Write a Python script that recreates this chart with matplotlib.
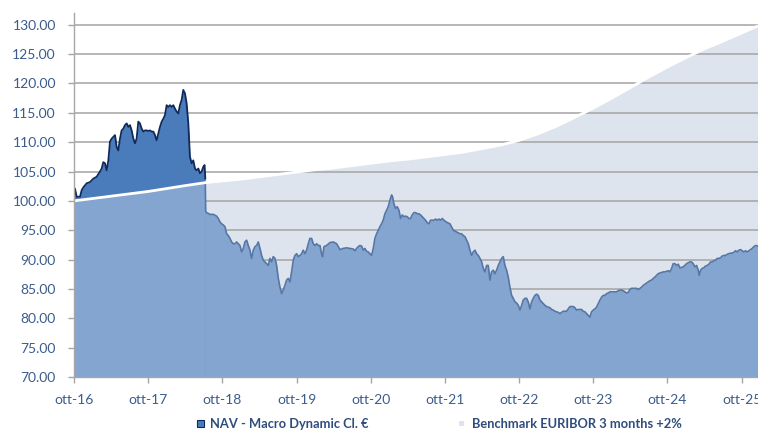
import matplotlib
matplotlib.use("Agg")
import matplotlib.pyplot as plt
from matplotlib.patches import Rectangle
import numpy as np

# ---- data (decimal years) ----
# NAV, first period (above benchmark, dark style)
nav_early_dates = [
    2016.750, 2016.763, 2016.786, 2016.831, 2016.853, 2016.876, 2016.921, 2016.966,
    2017.011, 2017.055, 2017.100, 2017.123, 2017.145, 2017.168, 2017.190, 2017.213,
    2017.235, 2017.258, 2017.280, 2017.303, 2017.325, 2017.347, 2017.370, 2017.392,
    2017.415, 2017.437, 2017.460, 2017.482, 2017.505, 2017.527, 2017.550, 2017.572,
    2017.594, 2017.617, 2017.639, 2017.662, 2017.684, 2017.707, 2017.729, 2017.752,
    2017.774, 2017.797, 2017.819, 2017.842, 2017.864, 2017.887, 2017.909, 2017.932,
    2017.954, 2017.976, 2017.999, 2018.021, 2018.044, 2018.066, 2018.089, 2018.111,
    2018.134, 2018.156, 2018.178, 2018.201, 2018.223, 2018.246, 2018.268, 2018.291,
    2018.313, 2018.336, 2018.358, 2018.381, 2018.403, 2018.426, 2018.448, 2018.471,
    2018.493, 2018.510, 2018.520,
]
nav_early = [
    102.0, 102.1, 100.7, 100.7, 101.8, 102.3, 103.0, 103.2,
    103.8, 104.1, 105.0, 105.5, 106.6, 106.4, 105.2, 106.9,
    110.1, 110.6, 110.9, 111.2, 109.2, 108.6, 110.6, 112.0,
    112.3, 112.9, 113.2, 112.6, 112.9, 112.0, 110.6, 109.8,
    110.6, 113.5, 113.2, 112.3, 111.8, 112.0, 112.0, 111.9,
    112.0, 111.8, 111.8, 111.2, 110.3, 111.5, 112.6, 113.5,
    114.0, 114.6, 116.3, 116.0, 116.3, 116.0, 116.3, 115.7,
    115.2, 114.9, 116.3, 117.2, 118.9, 118.3, 116.6, 113.2,
    107.5, 106.4, 106.9, 105.5, 105.2, 105.5, 104.7, 105.0,
    105.8, 106.1, 103.8,
]

# NAV, rest of the period
nav_dates = [
    2018.520, 2018.525, 2018.538, 2018.583, 2018.628, 2018.673, 2018.695, 2018.718,
    2018.740, 2018.762, 2018.785, 2018.807, 2018.830, 2018.852, 2018.875, 2018.897,
    2018.920, 2018.942, 2018.965, 2018.987, 2019.010, 2019.032, 2019.054, 2019.077,
    2019.099, 2019.122, 2019.144, 2019.167, 2019.189, 2019.212, 2019.234, 2019.257,
    2019.279, 2019.301, 2019.324, 2019.346, 2019.369, 2019.391, 2019.414, 2019.436,
    2019.459, 2019.481, 2019.504, 2019.526, 2019.549, 2019.571, 2019.593, 2019.616,
    2019.638, 2019.661, 2019.683, 2019.706, 2019.728, 2019.751, 2019.773, 2019.796,
    2019.818, 2019.840, 2019.863, 2019.885, 2019.908, 2019.930, 2019.953, 2019.975,
    2019.998, 2020.020, 2020.043,
    2020.065, 2020.087, 2020.101, 2020.119, 2020.155, 2020.200, 2020.245, 2020.290,
    2020.312, 2020.335, 2020.379, 2020.424, 2020.469, 2020.514, 2020.537, 2020.559,
    2020.582, 2020.604, 2020.627, 2020.649, 2020.671, 2020.694, 2020.716, 2020.739,
    2020.761, 2020.784, 2020.806, 2020.829, 2020.851, 2020.874, 2020.896, 2020.918,
    2020.941, 2020.963, 2020.986, 2021.008, 2021.031, 2021.044, 2021.062, 2021.085,
    2021.107, 2021.130, 2021.152, 2021.175, 2021.197, 2021.219, 2021.242, 2021.264,
    2021.287, 2021.309, 2021.332, 2021.354, 2021.377, 2021.399, 2021.422, 2021.444,
    2021.466, 2021.489, 2021.511, 2021.534, 2021.556, 2021.579, 2021.601, 2021.624,
    2021.646, 2021.669, 2021.691, 2021.714, 2021.736, 2021.758, 2021.781, 2021.817,
    2021.863, 2021.908, 2021.953, 2021.975, 2021.997, 2022.020, 2022.042, 2022.065,
    2022.087, 2022.110, 2022.132, 2022.155, 2022.177, 2022.200, 2022.222, 2022.245,
    2022.267, 2022.289, 2022.312, 2022.334, 2022.357, 2022.379, 2022.402, 2022.424,
    2022.447, 2022.469, 2022.492, 2022.514, 2022.536, 2022.559, 2022.581, 2022.604,
    2022.626, 2022.649, 2022.671, 2022.694, 2022.716, 2022.739, 2022.761, 2022.784,
    2022.806, 2022.829, 2022.851, 2022.873, 2022.896, 2022.918, 2022.941, 2022.963,
    2022.986, 2023.008, 2023.031, 2023.053, 2023.076, 2023.098, 2023.120, 2023.143,
    2023.165, 2023.188, 2023.210, 2023.233, 2023.255, 2023.278,
    2023.300, 2023.345, 2023.390, 2023.435, 2023.480, 2023.502, 2023.525, 2023.547,
    2023.570, 2023.592, 2023.614, 2023.637, 2023.659, 2023.682, 2023.704, 2023.727,
    2023.749, 2023.772, 2023.794, 2023.817, 2023.839, 2023.862, 2023.884, 2023.906,
    2023.929, 2023.951, 2023.974, 2023.996, 2024.019, 2024.064, 2024.086, 2024.109,
    2024.131, 2024.153, 2024.176, 2024.198, 2024.221, 2024.243, 2024.266, 2024.288,
    2024.333, 2024.356, 2024.378, 2024.401, 2024.423, 2024.445, 2024.468, 2024.490,
    2024.513, 2024.535, 2024.558, 2024.580, 2024.603, 2024.625, 2024.648, 2024.670,
    2024.693, 2024.715, 2024.737, 2024.760, 2024.782, 2024.805, 2024.827, 2024.850,
    2024.872, 2024.895,
    2024.917, 2024.962, 2025.007, 2025.052, 2025.074, 2025.097, 2025.119, 2025.142,
    2025.164, 2025.178, 2025.196, 2025.218, 2025.240, 2025.263, 2025.285, 2025.308,
    2025.330, 2025.353, 2025.375, 2025.398, 2025.420, 2025.443, 2025.465, 2025.487,
    2025.510, 2025.532, 2025.555, 2025.577, 2025.600, 2025.622, 2025.645, 2025.667,
    2025.690, 2025.712, 2025.735, 2025.757, 2025.779, 2025.802, 2025.824, 2025.847,
    2025.869, 2025.892, 2025.914, 2025.941, 2025.968,
]
nav = [
    103.0, 98.2, 98.0, 97.7, 97.7, 97.4, 97.0, 96.4,
    96.1, 95.9, 95.6, 94.4, 94.1, 93.6, 93.0, 92.7,
    92.7, 93.0, 92.7, 92.4, 91.3, 91.9, 93.0, 93.3,
    92.4, 91.6, 90.2, 91.6, 92.2, 92.4, 93.0, 91.9,
    90.7, 89.9, 89.6, 89.3, 89.0, 90.2, 89.6, 90.5,
    90.2, 89.0, 86.8, 85.3, 84.2, 84.8, 85.6, 86.5,
    86.8, 86.2, 87.9, 89.9, 90.7, 91.0, 90.5, 90.7,
    91.0, 91.6, 91.0, 91.6, 92.7, 93.6, 93.6, 92.7,
    92.4, 92.7, 92.4,
    92.4, 91.0, 90.5, 92.2, 92.4, 92.9, 93.0, 92.7,
    92.2, 91.7, 91.9, 92.0, 91.9, 91.8, 91.5, 91.9,
    92.2, 92.4, 92.3, 91.6, 91.9, 91.4, 91.3, 91.0,
    90.7, 91.9, 93.6, 94.4, 95.0, 95.6, 96.1, 96.7,
    97.8, 98.4, 99.0, 100.1, 101.0, 100.7, 99.5, 98.7,
    99.0, 98.4, 97.0, 97.6, 97.3, 97.4, 97.3, 97.0,
    97.0, 97.6, 98.0, 98.0, 97.8, 97.8, 97.6, 97.3,
    97.0, 96.7, 96.3, 96.1, 96.7, 96.7, 96.7, 96.9,
    96.7, 96.9, 96.7, 97.0, 96.7, 96.5, 96.3, 96.1,
    95.0, 94.7, 94.4, 94.4, 94.1, 93.9, 93.3, 92.7,
    91.6, 90.7, 91.3, 91.6, 91.0, 90.7, 90.2, 89.6,
    88.5, 87.9, 89.0, 89.0, 86.5, 87.9, 88.2, 87.6,
    88.2, 89.0, 89.6, 90.2, 90.5, 89.0, 88.2, 87.0,
    85.3, 83.9, 83.4, 82.8, 82.6, 82.2, 81.4, 82.2,
    83.1, 83.4, 83.4, 82.8, 81.6, 82.8, 83.4, 83.9,
    84.1, 83.9, 83.1, 82.8, 82.5, 82.2, 82.0, 81.9,
    81.8, 81.5, 81.4, 81.2, 81.1, 81.0,
    80.8, 81.2, 81.2, 82.0, 82.0, 81.8, 81.4, 81.5,
    81.5, 81.5, 81.2, 81.1, 80.8, 80.5, 80.2, 81.1,
    81.4, 81.6, 81.9, 82.5, 83.1, 83.6, 83.9, 83.9,
    84.2, 84.3, 84.5, 84.5, 84.5, 84.5, 84.7, 84.8,
    84.8, 84.7, 84.5, 84.3, 84.4, 84.9, 85.1, 85.1,
    85.1, 84.9, 85.1, 85.3, 85.6, 85.8, 86.0, 86.2,
    86.4, 86.5, 86.8, 87.0, 87.3, 87.6, 87.7, 87.8,
    87.9, 87.9, 88.0, 88.1, 87.9, 88.5, 89.3, 89.3,
    89.0, 89.2,
    88.6, 88.75, 89.3, 89.6, 89.6, 89.3, 88.75, 89.0,
    88.2, 87.3, 88.2, 88.5, 88.6, 88.9, 89.0, 89.2,
    89.6, 89.6, 89.8, 89.9, 90.2, 90.2, 90.3, 90.6,
    90.7, 90.7, 90.9, 91.0, 91.1, 91.1, 91.25, 91.5,
    91.3, 91.6, 91.7, 91.5, 91.3, 91.5, 91.3, 91.5,
    91.7, 91.9, 92.2, 92.4, 92.3,
]

bench_dates = [
    2016.75, 2017.00, 2017.25, 2017.50, 2017.75, 2018.00, 2018.25, 2018.52,
    2018.75, 2019.00, 2019.25, 2019.50, 2019.75, 2020.00, 2020.25, 2020.50,
    2020.75, 2021.00, 2021.25, 2021.50, 2021.75, 2022.00, 2022.25, 2022.50,
    2022.75, 2023.00, 2023.25, 2023.50, 2023.75, 2024.00, 2024.25, 2024.50,
    2024.75, 2025.00, 2025.25, 2025.50, 2025.75, 2025.97,
]
bench = [
    100.0, 100.4, 100.8, 101.2, 101.6, 102.1, 102.6, 103.1,
    103.4, 103.7, 104.1, 104.5, 104.9, 105.3, 105.6, 106.0,
    106.4, 106.8, 107.1, 107.5, 107.9, 108.3, 108.9, 109.5,
    110.3, 111.4, 112.7, 114.2, 115.8, 117.5, 119.3, 121.1,
    122.8, 124.4, 125.9, 127.2, 128.6, 129.8,
]

x_ticks = [2016.75 + k for k in range(10)]
x_labels = ["ott-16", "ott-17", "ott-18", "ott-19", "ott-20",
            "ott-21", "ott-22", "ott-23", "ott-24", "ott-25"]
y_ticks = list(range(70, 131, 5))

LEGEND_NAV = "NAV - Macro Dynamic Cl. €"
LEGEND_BENCH = "Benchmark EURIBOR 3 months +2%"

# ---- style ----
C_BENCH = "#dde4ee"
C_NAV = "#84a5cf"
C_NAV_LINE = "#5676a6"
C_DARK = "#4a7cbc"
C_DARK_LINE = "#0f2a5a"
C_GRID = "#a3a3a3"
C_TEXT = "#3b5c8c"
C_LEG = "#2f4d7c"

plt.rcParams["font.family"] = ["Lato", "DejaVu Sans"]

fig = plt.figure(figsize=(7.58, 4.30), dpi=100)
ax = fig.add_axes([74 / 758, 1 - 377 / 430, 684 / 758, 364 / 430])

bd = np.array(bench_dates)
bv = np.array(bench)
base = 70

ax.fill_between(bd, base, bv, color=C_BENCH, linewidth=0, zorder=1)

# grid over the benchmark area, under the NAV areas
for yv in y_ticks[1:]:
    ax.axhline(yv, color=C_GRID, linewidth=1.1, zorder=1.5)

ax.fill_between(nav_early_dates, base, nav_early, color=C_DARK, linewidth=0, zorder=2)
ax.fill_between(nav_dates, base, nav, color=C_NAV, linewidth=0, zorder=2.1)
ax.plot(nav_dates, nav, color=C_NAV_LINE, linewidth=1.2, zorder=2.3)

early = bd <= nav_early_dates[-1]
ax.fill_between(bd[early], base, bv[early], color=C_NAV, linewidth=0, zorder=2.2)
ax.plot(nav_early_dates, nav_early, color=C_DARK_LINE, linewidth=1.3, zorder=3)
ax.plot(bd, bv, color="white", linewidth=2.0, zorder=4, solid_capstyle="butt")

ax.set_xlim(2016.75, 2025.97)
ax.set_ylim(70, 132)
ax.set_xticks(x_ticks)
ax.set_xticklabels(x_labels)
ax.set_yticks(y_ticks)
ax.set_yticklabels([f"{v:.2f}" for v in y_ticks])
ax.tick_params(axis="both", colors="#a6a6a6", labelcolor=C_TEXT,
               labelsize=10, length=4, width=1)
ax.tick_params(axis="x", pad=8)
ax.tick_params(axis="y", pad=9)
for side in ("top", "right"):
    ax.spines[side].set_visible(False)
for side in ("left", "bottom"):
    ax.spines[side].set_color("#a6a6a6")
    ax.spines[side].set_linewidth(1)
    ax.spines[side].set_zorder(5)

# legend drawn by hand to match the spacing of the original
leg_base = 1 - 428 / 430
fig.add_artist(Rectangle((197 / 758, 1 - 427 / 430), 7 / 758, 7 / 430,
                         transform=fig.transFigure, facecolor=C_DARK,
                         edgecolor=C_DARK_LINE, linewidth=0.8))
fig.text(210 / 758, leg_base, LEGEND_NAV, color=C_LEG,
         fontsize=9.3, fontweight="bold", va="baseline", ha="left")
fig.add_artist(Rectangle((459 / 758, 1 - 426 / 430), 5 / 758, 5 / 430,
                         transform=fig.transFigure, facecolor=C_BENCH,
                         edgecolor="none"))
fig.text(472 / 758, leg_base, LEGEND_BENCH, color=C_LEG,
         fontsize=9.3, fontweight="bold", va="baseline", ha="left")

fig.savefig("out.png", dpi=100)
